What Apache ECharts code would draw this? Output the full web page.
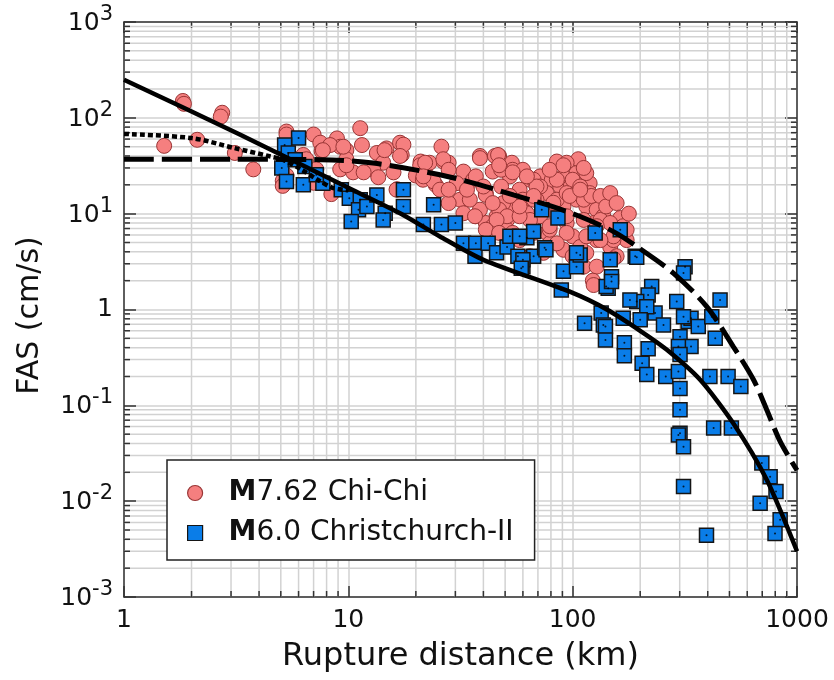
<!DOCTYPE html>
<html><head><meta charset="utf-8">
<script src="https://cdn.jsdelivr.net/npm/echarts@6/dist/echarts.min.js"></script>
<style>html,body{margin:0;padding:0;background:#fff}#c{width:834px;height:680px}</style>
</head><body><div id="c"></div>
<script>
// ---------------- data ----------------
const chiChiDist = [1.83,1.85,2.74,2.70,1.51,2.12,3.12,3.77,
 5.3,5.3,7.0,8.9,11.3,7.5,7.6,9.2,9.8,11.5,13.4,14.8,17,17.3,14.3,9.8,9.2,10.5,12.9,13.6,15.9,16.5,5.3,5.1,6.3,6.5,8.4,21,22,24.5,20,8.3,7.7,7.2,9.5,11.7,9.8,7.0,20.9,21.5,16.4,14.5,5.1,
 26,38.6,45,47,53.6,85,106,94,26.5,28,23,32.6,36,44,52.5,64.5,71.6,80.7,91,104,112,119,24,25.6,31.5,30.4,41,48,58,60,54,49,37,41,51,71.6,79,91,104,119,115,128,137,94,76.6,100,91,115,147,163,168,174,157,112,128,123,64.5,74,58,67,51,44,38.6,32.6,28,34.8,54,60,48,88,98,76.6,69,85,45.8,17.6,17,22,26.5,28,21.6,37,41,124,152,46.5,38.6,67,36.7,47,59,124,152,128,108,79,94,
 47,54,71.6,82,100,115,112,94,79,133,152,174,67,62.5,51,45.8,41,54,47,85,94,108,121,
 69,62.5,97,108,133,141,147,128,112,115,133,79,64.5,58,58,67,52.5,44,40,33.8,28,79,91,112,147,157,178,85,100];
const chiChiFAS = [150,140,113,103,51,59,43,29,
 72,67,67,61,78,55,45,50,46,52,43,48,55,41,34,37,29,27,29,24,27,18,25,22,41,37,16,35,30,20,25,52,46,29,50,27,32,21,32,22.6,17.8,46,19.5,
 50,40,40,40,34,35,37,34,35,34,34,27.5,22.6,27.5,24.5,22.6,24.5,22.6,24.5,26.5,24.5,20.8,21.7,17.8,14,20.8,16.4,19.2,17.8,14,11,12.9,9.4,8,8.6,9.4,11,11.9,14,16.4,11.9,11,9.4,8,6.3,5.8,4.2,3.9,4.5,9.0,7.4,5.3,3.6,2.8,2.8,2.0,3.6,3.9,5.3,6.3,6.8,7.4,11,10.1,12.9,14,28.7,28.7,28.7,19.2,19.2,16.4,14,14,9.4,52.5,40,34,37,28.7,24.5,24.5,15.7,1.8,3.4,41,38,22.6,9.4,11,11.9,8,5.3,5.3,4.5,4.9,6.3,
 32,27,19.2,13,22.6,26.5,14,9.4,6.8,8.6,5.8,6.8,14,10.1,9.4,8.6,6.8,6.3,6.3,22.6,16.4,19.2,15.3,
 19.2,24.5,15.3,17.8,15.3,11.9,8,7.4,8.6,5.8,5.3,7.4,8.6,9.4,11.9,15.3,15.3,12.9,19.2,17.8,17.8,28.7,32,30,16.4,12.9,10,4.9,3.6];

const chchDist = [6.0,5.2,5.4,5.05,5.8,6.4,6.3,7.7,9.3,10.1,11.3,11.1,10.3,12.1,13.4,14.6,14.3,17.6,17.6,24,21.6,5.3,7.2,
 26,30,32.6,37,36.7,42,45.8,51,52.5,62.5,67,57,67,75,60,91,104,108,104,72.8,86,126,163,147,190,149,76,89,144,141,149,193,
 317,312,225,217,193,180,454,291,233,214,134,113,137,140,140,168,200,254,327,337,363,312,417,432,301,337,296,301,217,170,170,204,214,260,296,301,409,493,562,
 301,425,510,301,296,312,312,395,697,759,806,685,841,798,58,60,59];
const chchFAS = [61.5,52,43,30,36.5,31,20,20.8,17.8,14.5,14,11,8.3,11.9,15.7,10.1,8.6,17.8,11.9,12.4,7.7,21.7,25.5,
 7.7,8.0,4.9,4.9,3.6,4.9,3.9,4.5,5.8,5.6,6.5,3.6,3.6,4.4,2.8,2.5,2.8,3.7,3.9,11,9,6.3,6.8,3.3,3.6,2.2,4.2,1.6,1.67,1.74,1.96,3.5,
 2.8,2.4,1.74,1.42,1.21,1.26,1.26,1.21,0.92,1.07,0.92,0.72,0.69,0.665,0.48,0.81,0.78,0.69,0.75,0.81,0.665,0.84,0.84,0.5,0.52,0.41,0.41,0.34,0.39,0.45,0.33,0.275,0.21,0.2,0.225,0.15,0.2,0.2,0.157,
 0.09,0.058,0.058,0.051,0.049,0.037,0.0142,0.0044,0.025,0.018,0.0126,0.0095,0.0064,0.0046,5.8,3.3,2.7];

const solidDist = [1, 3.3, 10, 17, 25.6, 40, 100, 142, 200, 263, 370, 520, 733, 1000];
const solidFAS  = [250, 66.6, 18.6, 10.1, 5.78, 3.3, 1.49, 1.0, 0.6, 0.38, 0.185, 0.065, 0.0167, 0.003];
const dashedDist = [1, 3, 7.5, 12.9, 25.6, 38.6, 54.4, 76.6, 108, 152, 193, 281, 396, 520, 640, 733, 841, 1000];
const dashedFAS  = [37, 37, 36.6, 33.7, 25.5, 20, 15.7, 12.4, 9.35, 6.5, 4.55, 2.4, 1.07, 0.41, 0.185, 0.09, 0.042, 0.021];
const dottedDist = [1, 2, 3.1, 4.5, 5.1, 6.2, 7.3, 8.5, 10];
const dottedFAS  = [68, 61.5, 48.4, 39.5, 36.6, 28.7, 22.6, 18.6, 17.5];

const xTickLabels = ['1', '10', '100', '1000'];
const yTickLabels = ['10^-3', '10^-2', '10^-1', '1', '10^1', '10^2', '10^3'];
const minorMultipliers = [2, 3, 4, 5, 6, 7, 8, 9];
const seriesNames = ['M7.62 Chi-Chi', 'M6.0 Christchurch-II'];

// ---------------- styling ----------------
const FONT = 'DejaVu Sans';
const TXT = '#111';
const AX = '#333';
const GRID = '#d2d2d2';
const X_MIN = 1, X_MAX = 1000, Y_MIN = 1e-3, Y_MAX = 1e3;

const zip = (a, b) => a.map((v, i) => [v, b[i]]);
const decades = (lo, hi) => { const out = []; for (let e = Math.round(Math.log10(lo)); e < Math.round(Math.log10(hi)); e++) minorMultipliers.forEach(m => out.push(m * Math.pow(10, e))); return out; };
const xMinor = decades(X_MIN, X_MAX);
const yMinor = decades(Y_MIN, Y_MAX);

const chart = echarts.init(document.getElementById('c'), null, {renderer: 'canvas'});

function yLabel(v) {
  const idx = Math.round(Math.log10(v)) + 3;
  const s = yTickLabels[idx];
  if (s === undefined) return '';
  if (s.indexOf('^') < 0) return '{one|' + s + '}';
  const p = s.split('^');
  return '{b|' + p[0] + '}{s|' + p[1] + '}';
}
function xLabel(v) {
  const idx = Math.round(Math.log10(v));
  return xTickLabels[idx] !== undefined ? xTickLabels[idx] : '';
}

const baseAxis = {
  type: 'log', logBase: 10,
  axisLine: {show: true, lineStyle: {color: AX, width: 1.5}},
  axisTick: {show: true, inside: true, length: 11, lineStyle: {color: AX, width: 1.5}},
  splitLine: {show: false},
  minorTick: {show: false}, minorSplitLine: {show: false}
};

const option = {
  animation: false,
  backgroundColor: '#fff',
  grid: {left: 124, top: 22, width: 673, height: 575, containLabel: false, outerBoundsMode: 'none'},
  legend: {
    data: [{name: seriesNames[0], icon: 'circle'}, {name: seriesNames[1], icon: 'rect'}],
    orient: 'vertical', left: 167, top: 460,
    padding: [19, 21, 13, 20], itemGap: 12, itemWidth: 15, itemHeight: 15,
    backgroundColor: '#fff', borderColor: '#222', borderWidth: 1.5, borderRadius: 0,
    itemStyle: {borderWidth: 1.2},
    selectedMode: false,
    formatter: n => '{b|' + n.charAt(0) + '}' + n.slice(1),
    textStyle: {fontFamily: FONT, fontSize: 28, color: TXT, lineHeight: 28,
      rich: {b: {fontFamily: FONT, fontSize: 28, fontWeight: 'bold', color: TXT, padding: [0, 0, 0, 21]}}}
  },
  xAxis: [
    Object.assign({}, baseAxis, {
      min: X_MIN, max: X_MAX, position: 'bottom',
      splitLine: {show: true, lineStyle: {color: GRID, width: 1.5}},
      axisLabel: {show: true, margin: 11, formatter: xLabel, fontFamily: FONT, fontSize: 25, color: TXT},
      name: 'Rupture distance (km)', nameLocation: 'middle', nameGap: 44, nameMoveOverlap: false,
      nameTextStyle: {fontFamily: FONT, fontSize: 32, color: TXT}
    }),
    Object.assign({}, baseAxis, {min: X_MIN, max: X_MAX, position: 'top', axisLabel: {show: false}})
  ],
  yAxis: [
    Object.assign({}, baseAxis, {
      min: Y_MIN, max: Y_MAX, position: 'left',
      axisTick: {show: true, inside: true, length: 12, lineStyle: {color: AX, width: 1.5}},
      splitLine: {show: true, lineStyle: {color: GRID, width: 1.5}},
      axisLabel: {show: true, margin: 11, formatter: yLabel, fontFamily: FONT, color: TXT,
        rich: {
          b: {fontFamily: FONT, fontSize: 25, color: TXT, padding: [0, 0, 4, 0], verticalAlign: 'bottom'},
          s: {fontFamily: FONT, fontSize: 21, color: TXT, padding: [0, 0, 15, 0], verticalAlign: 'bottom'},
          one: {fontFamily: FONT, fontSize: 25, color: TXT}
        }},
      name: 'FAS (cm/s)', nameLocation: 'middle', nameGap: 79, nameMoveOverlap: false,
      nameTextStyle: {fontFamily: FONT, fontSize: 30, color: TXT, padding: [0, 12, 0, 0]}
    }),
    Object.assign({}, baseAxis, {min: Y_MIN, max: Y_MAX, position: 'right', axisLabel: {show: false},
      axisTick: {show: true, inside: true, length: 12, lineStyle: {color: AX, width: 1.5}}})
  ],
  series: [
    { // minor x grid + ticks
      type: 'custom', silent: true, z: 1, xAxisIndex: 0, yAxisIndex: 0,
      data: xMinor.map(v => [v, 1]),
      renderItem: (params, api) => {
        const v = api.value(0);
        const b = api.coord([v, Y_MIN]), t = api.coord([v, Y_MAX]);
        return {type: 'group', children: [
          {type: 'line', shape: {x1: b[0], y1: b[1], x2: t[0], y2: t[1]}, style: {stroke: GRID, lineWidth: 1.5}},
          {type: 'line', shape: {x1: b[0], y1: b[1], x2: b[0], y2: b[1] - 6}, style: {stroke: AX, lineWidth: 1.5}},
          {type: 'line', shape: {x1: t[0], y1: t[1], x2: t[0], y2: t[1] + 6}, style: {stroke: AX, lineWidth: 1.5}}
        ]};
      }
    },
    { // minor y grid + ticks
      type: 'custom', silent: true, z: 1, xAxisIndex: 0, yAxisIndex: 0,
      data: yMinor.map(v => [1, v]),
      renderItem: (params, api) => {
        const v = api.value(1);
        const l = api.coord([X_MIN, v]), r = api.coord([X_MAX, v]);
        return {type: 'group', children: [
          {type: 'line', shape: {x1: l[0], y1: l[1], x2: r[0], y2: r[1]}, style: {stroke: GRID, lineWidth: 1.5}},
          {type: 'line', shape: {x1: l[0], y1: l[1], x2: l[0] + 6, y2: l[1]}, style: {stroke: AX, lineWidth: 1.5}},
          {type: 'line', shape: {x1: r[0], y1: r[1], x2: r[0] - 6, y2: r[1]}, style: {stroke: AX, lineWidth: 1.5}}
        ]};
      }
    },
    {
      name: seriesNames[0], type: 'scatter', z: 3, symbol: 'circle', symbolSize: 15,
      data: zip(chiChiDist, chiChiFAS),
      itemStyle: {color: '#f57f7f', borderColor: '#993535', borderWidth: 1, opacity: 1}
    },
    {
      name: seriesNames[1], type: 'scatter', z: 4, symbol: 'rect', symbolSize: 14,
      data: zip(chchDist, chchFAS),
      itemStyle: {color: '#0a7de8', borderColor: '#151515', borderWidth: 1.5, opacity: 1}
    },
    {
      name: 'dots', type: 'scatter', z: 5, symbol: 'circle', symbolSize: 2, silent: true,
      data: zip(chchDist, chchFAS),
      itemStyle: {color: '#000'}
    },
    {
      name: 'dashed', type: 'line', z: 6, symbol: 'none', smooth: 0.3, silent: true,
      data: zip(dashedDist, dashedFAS),
      lineStyle: {color: '#000', width: 5, type: [30, 8], cap: 'butt'}
    },
    {
      name: 'dotted', type: 'line', z: 6, symbol: 'none', smooth: 0.3, silent: true,
      data: zip(dottedDist, dottedFAS),
      lineStyle: {color: '#000', width: 4.5, type: [5, 3], cap: 'butt'}
    },
    {
      name: 'solid', type: 'line', z: 7, symbol: 'none', smooth: 0.25, silent: true,
      data: zip(solidDist, solidFAS),
      lineStyle: {color: '#000', width: 4.5}
    }
  ]
};
chart.setOption(option);
</script>
</body></html>
